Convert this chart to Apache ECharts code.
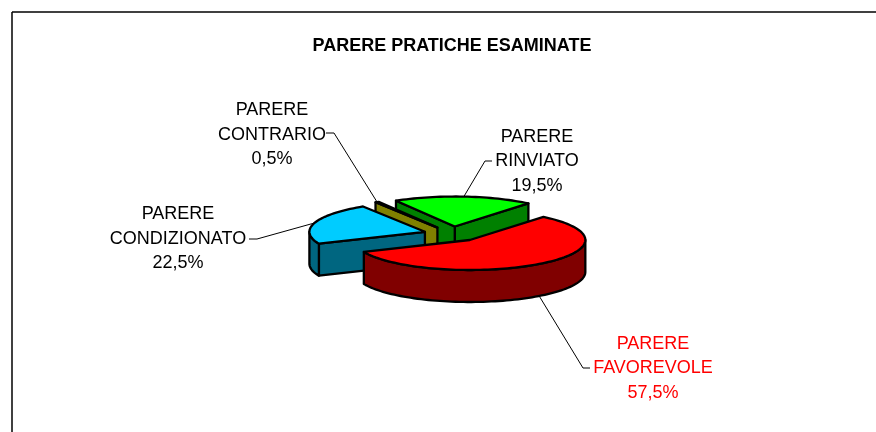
<!DOCTYPE html>
<html>
<head>
<meta charset="utf-8">
<script src="https://cdn.jsdelivr.net/npm/echarts@6/dist/echarts.min.js"></script>
<style>
html, body { margin: 0; padding: 0; background: #fff; }
#main { width: 876px; height: 432px; }
</style>
</head>
<body>
<div id="main"></div>
<script>
// paint order, back to front
var categories = ['PARERE\nRINVIATO', 'PARERE\nCONTRARIO', 'PARERE\nCONDIZIONATO', 'PARERE\nFAVOREVOLE'];
var values = [19.5, 0.5, 22.5, 57.5];
var topColors = ['#00ff00', '#808000', '#00ccff', '#ff0000'];
var sideColors = ['#008000', '#808000', '#006680', '#800000'];
var labelColors = ['#000000', '#000000', '#000000', '#ff0000'];
// label x, label y, leader x, leader y
var labelBoxes = [[537, 161.5, 492, 161], [272, 135, 326, 133], [178, 239, 249, 239], [653, 368.5, 590, 368]];

var cx = 452.5, cy = 234, rx = 115.5, ry = 30, depth = 32, explode = 0.25;
var firstAngle = 50.4;

function rad(d) { return d * Math.PI / 180; }

function rimPoint(o, t, dy) {
    return [o[0] + rx * Math.cos(rad(t)), o[1] - ry * Math.sin(rad(t)) + (dy || 0)];
}

function arcPoints(o, from, to, dy) {
    var pts = [], n = Math.max(2, Math.ceil(Math.abs(to - from) / 2));
    for (var i = 0; i <= n; i++) {
        pts.push(rimPoint(o, from + (to - from) * i / n, dy));
    }
    return pts;
}

function poly(points, fill) {
    return {
        type: 'polygon',
        shape: { points: points },
        style: { fill: fill, stroke: '#000', lineWidth: 2.3, lineJoin: 'round' }
    };
}

function renderSlice(params, api) {
    var i = params.dataIndex;
    var sum = 0;
    for (var k = 0; k < i; k++) { sum += values[k]; }
    var a = firstAngle + sum * 3.6;
    var b = a + api.value(0) * 3.6;
    var mid = (a + b) / 2;
    var o = [cx + explode * rx * Math.cos(rad(mid)), cy - explode * ry * Math.sin(rad(mid))];
    var kids = [];

    // leader line and label
    var box = labelBoxes[i];
    var frontEdge = Math.sin(rad(mid)) < 0 ? depth : 0;
    var end = rimPoint(o, mid, frontEdge);
    var elbow = box[2] < end[0] ? box[2] + 8 : box[2] - 7;
    kids.push({
        type: 'polyline',
        shape: { points: [[box[2], box[3]], [elbow, box[3]], end] },
        style: { fill: null, stroke: '#000', lineWidth: 1 }
    });
    kids.push({
        type: 'text',
        style: {
            text: categories[i] + '\n' + String(api.value(0).toFixed(1)).replace('.', ',') + '%',
            x: box[0], y: box[1],
            fill: labelColors[i],
            fontFamily: 'Liberation Sans',
            fontSize: 18,
            lineHeight: 24.5,
            align: 'center',
            verticalAlign: 'middle'
        }
    });

    // cut faces, only those turned to the viewer
    [a, b].forEach(function (t, n) {
        var seen = n === 0 ? Math.cos(rad(t)) > 0 : Math.cos(rad(t)) < 0;
        if (seen) {
            var p = rimPoint(o, t);
            kids.push(poly([o, p, [p[0], p[1] + depth], [o[0], o[1] + depth]], sideColors[i]));
        }
    });

    // front part of the rim
    var wallFrom = Math.max(a, 180), wallTo = Math.min(b, 360);
    if (wallTo > wallFrom) {
        kids.push(poly(arcPoints(o, wallFrom, wallTo, 0).concat(arcPoints(o, wallTo, wallFrom, depth)), sideColors[i]));
    }

    // top
    kids.push(poly([o].concat(arcPoints(o, a, b, 0)), topColors[i]));
    return { type: 'group', children: kids };
}

var myChart = echarts.init(document.getElementById('main'), null, { renderer: 'canvas' });
myChart.setOption({
    animation: false,
    backgroundColor: '#fff',
    title: {
        text: 'PARERE PRATICHE ESAMINATE',
        left: 447,
        top: 32,
        textAlign: 'center',
        textStyle: { fontFamily: 'Liberation Sans', fontSize: 18, fontWeight: 'bold', color: '#000' }
    },
    graphic: [
        { type: 'line', shape: { x1: 12, y1: 12, x2: 876, y2: 12 }, style: { stroke: '#000', lineWidth: 1.5 } },
        { type: 'line', shape: { x1: 12, y1: 12, x2: 12, y2: 432 }, style: { stroke: '#000', lineWidth: 1.5 } }
    ],
    series: [{
        type: 'custom',
        coordinateSystem: 'none',
        renderItem: renderSlice,
        data: values.map(function (v, i) { return { name: categories[i], value: [v] }; })
    }]
});
</script>
</body>
</html>
